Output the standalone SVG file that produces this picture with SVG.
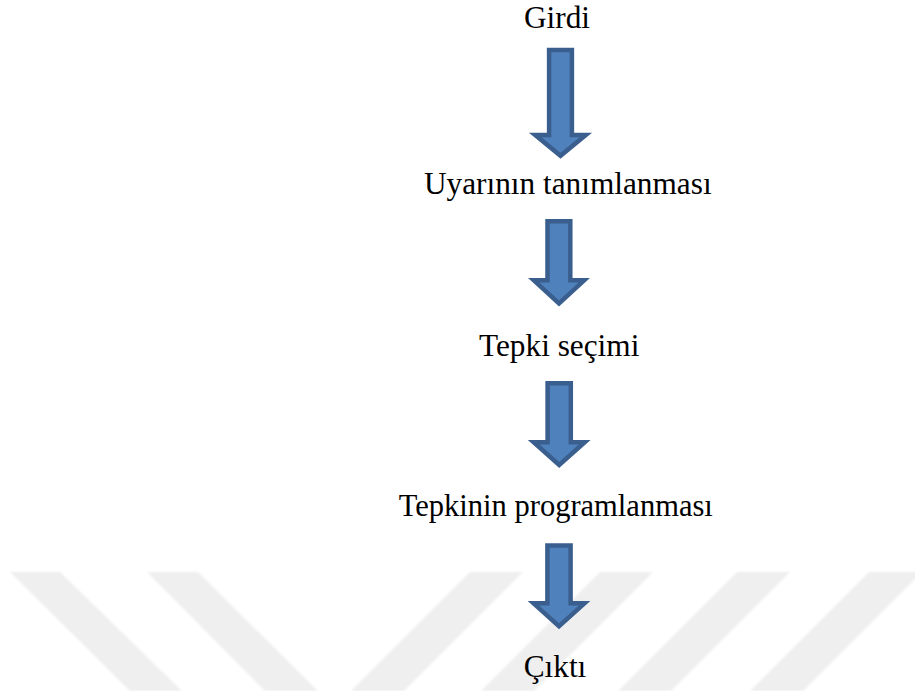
<svg xmlns="http://www.w3.org/2000/svg" width="915" height="691" viewBox="0 0 915 691">
  <style>
    .lbl { font-family: "Liberation Serif", "Times New Roman", serif; font-size: 31.3px; fill: #000000; text-anchor: middle; }
    .arrow { fill: #4F81BD; stroke: #3A5F8E; stroke-width: 4.5; stroke-linejoin: miter; }
    .wm { fill: #EFEFEF; }
  </style>
  <defs>
    <filter id="soft" x="-5%" y="-5%" width="110%" height="110%">
      <feGaussianBlur stdDeviation="1"/>
    </filter>
  </defs>
  <rect width="915" height="691" fill="#FFFFFF"/>
  <g id="watermark" filter="url(#soft)">
    <polygon class="wm" points="10,572 60,572 182,691 130,691"/>
    <polygon class="wm" points="147,572 198,572 318,691 265,691"/>
    <polygon class="wm" points="470,572 523,572 404,691 351,691"/>
    <polygon class="wm" points="600,572 653,572 534,691 481,691"/>
    <polygon class="wm" points="737,572 790,572 671,691 618,691"/>
    <polygon class="wm" points="869,572 922,572 803,691 750,691"/>
  </g>
  <g id="connectors">
    <path id="arrow1" class="arrow" d="M549.1,50 L571.9,50 L571.9,135 L585.8,135 L560.5,155.8 L535.2,135 L549.1,135 Z"/>
    <path id="arrow2" class="arrow" d="M547.5,221.3 L570.3,221.3 L570.3,280.3 L584.2,280.3 L559,303.5 L533.8,280.3 L547.5,280.3 Z"/>
    <path id="arrow3" class="arrow" d="M547.6,383.3 L570.8,383.3 L570.8,442.3 L584.7,442.3 L559.2,465 L533.7,442.3 L547.6,442.3 Z"/>
    <path id="arrow4" class="arrow" d="M547.4,545.6 L570.6,545.6 L570.6,603.3 L584.5,603.3 L559,626.2 L533.5,603.3 L547.4,603.3 Z"/>
  </g>
  <g id="node-girdi"><text class="lbl" x="557" y="28">Girdi</text></g>
  <g id="node-uyarinin"><text class="lbl" x="567.8" y="193.5">Uyarının tanımlanması</text></g>
  <g id="node-tepki-secimi"><text class="lbl" x="559.2" y="356">Tepki seçimi</text></g>
  <g id="node-tepkinin"><text class="lbl" x="555.8" y="516" textLength="314" lengthAdjust="spacingAndGlyphs">Tepkinin programlanması</text></g>
  <g id="node-cikti"><text class="lbl" x="555" y="676.7">Çıktı</text></g>
</svg>
